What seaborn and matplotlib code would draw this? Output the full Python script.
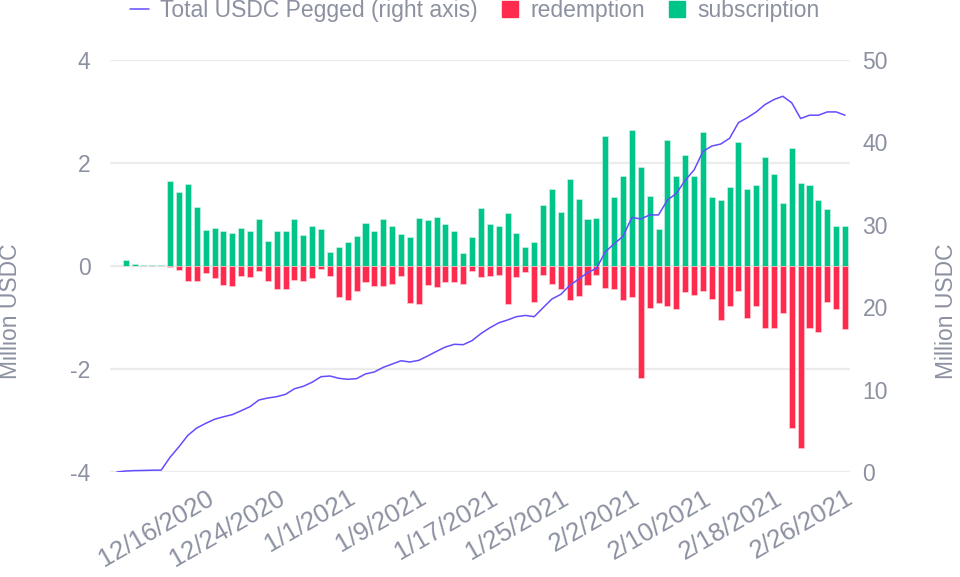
import numpy as np
import pandas as pd
import matplotlib
matplotlib.use("Agg")
import matplotlib.pyplot as plt
import matplotlib.transforms as mtransforms
from matplotlib.lines import Line2D
import seaborn as sns

# ── data (one value per day, 12/6/2020 → 2/26/2021) ─────────────────────────
start_date = "2020-12-06"

subscription = [
    0.00, 0.12, 0.045, 0.025, 0.025, 0.01, 1.66, 1.43, 1.59, 1.15,
    0.69, 0.74, 0.67, 0.65, 0.74, 0.68, 0.91, 0.49, 0.68, 0.68,
    0.91, 0.60, 0.77, 0.72, 0.28, 0.37,
    0.47, 0.58, 0.84, 0.67, 0.91, 0.78, 0.63, 0.56, 0.94, 0.90,
    0.96, 0.81, 0.67, 0.25, 0.56, 1.13, 0.81, 0.78, 1.02, 0.65,
    0.37, 0.46, 1.18, 1.50, 1.04, 1.68, 1.31, 0.91, 0.94, 2.52, 1.34,
    1.75, 2.65, 1.92, 1.36, 0.72, 2.45, 1.75, 2.15, 1.75, 2.61,
    1.34, 1.28, 1.53, 2.40, 1.50, 1.57, 2.12, 1.78, 1.22, 2.30,
    1.62, 1.57, 1.28, 1.11, 0.78, 0.78,
]

redemption = [
    0.00, 0.00, 0.00, 0.00, 0.00, 0.00, -0.02, -0.08, -0.29, -0.29,
    -0.14, -0.24, -0.36, -0.38, -0.19, -0.22, -0.10, -0.29, -0.45, -0.45,
    -0.27, -0.29, -0.23, -0.06, -0.20, -0.61,
    -0.66, -0.49, -0.31, -0.38, -0.38, -0.35, -0.19, -0.72, -0.74, -0.36,
    -0.40, -0.31, -0.32, -0.34, -0.10, -0.22, -0.19, -0.17, -0.74, -0.21,
    -0.12, -0.70, -0.17, -0.34, -0.45, -0.66, -0.59, -0.36, -0.17, -0.42, -0.45,
    -0.66, -0.60, -2.17, -0.82, -0.71, -0.77, -0.84, -0.50, -0.56, -0.48,
    -0.64, -1.05, -0.78, -0.48, -1.00, -0.77, -1.20, -1.20, -0.91, -3.15,
    -3.54, -1.21, -1.28, -0.69, -0.84, -1.23,
]

total_pegged = [
    0.00, 0.12, 0.17, 0.19, 0.22, 0.23, 1.80, 3.07, 4.45, 5.34,
    5.90, 6.40, 6.70, 6.96, 7.44, 7.93, 8.74, 8.98, 9.14, 9.43,
    10.10, 10.40, 10.90, 11.57, 11.65, 11.37,
    11.25, 11.33, 11.90, 12.14, 12.70, 13.10, 13.50, 13.35, 13.55, 14.08,
    14.64, 15.17, 15.50, 15.45, 15.94, 16.80, 17.50, 18.10, 18.45, 18.85,
    19.00, 18.85, 19.94, 21.00, 21.56, 22.65, 23.40, 24.20, 24.70, 26.70, 27.70,
    28.60, 30.90, 30.70, 31.20, 31.20, 33.00, 33.80, 35.40, 36.65, 38.90,
    39.56, 39.80, 40.50, 42.40, 43.00, 43.70, 44.60, 45.20, 45.60, 44.80,
    42.90, 43.30, 43.30, 43.70, 43.70, 43.30,
]

tick_labels = ["12/16/2020", "12/24/2020", "1/1/2021", "1/9/2021", "1/17/2021",
               "1/25/2021", "2/2/2021", "2/10/2021", "2/18/2021", "2/26/2021"]

GREEN  = "#00C58A"
RED    = "#FF2B4F"
PURPLE = "#634DFF"
TEXT   = "#8C91A1"
GRID   = "#ECECEC"

dates = pd.date_range(start_date, periods=len(subscription), freq="D")
df = pd.DataFrame({
    "day": np.arange(len(dates)),
    "date": dates,
    "subscription": subscription,
    "redemption": redemption,
    "pegged": total_pegged,
})
tick_pos = [df.loc[df["date"] == pd.to_datetime(t, format="%m/%d/%Y"), "day"].iloc[0]
            for t in tick_labels]

sns.set_theme(style="white")
plt.rcParams["font.family"] = ["Liberation Sans", "DejaVu Sans"]

fig = plt.figure(figsize=(9.6, 5.77), dpi=100)
ax = fig.add_axes([110 / 960, 1 - 472 / 577, 740 / 960, 412 / 577])
ax2 = ax.twinx()

sns.barplot(data=df, x="day", y="subscription", native_scale=True, color=GREEN,
            saturation=1, width=0.68, errorbar=None, ax=ax, zorder=2,
            edgecolor="#d9f5ea", linewidth=0.4)
sns.barplot(data=df, x="day", y="redemption", native_scale=True, color=RED,
            saturation=1, width=0.68, errorbar=None, ax=ax, zorder=2,
            edgecolor="#ffd6dd", linewidth=0.4)
sns.lineplot(data=df, x="day", y="pegged", color=PURPLE, linewidth=1.1, ax=ax2)

ax.set_xlim(-0.77, 82.56)
ax.set_ylim(-4, 4)
ax.set_yticks([-4, -2, 0, 2, 4])
ax.set_yticklabels(["-4", "-2", "0", "2", "4"])
ax2.set_ylim(0, 50)
ax2.set_yticks([0, 10, 20, 30, 40, 50])

ax.set_axisbelow(True)
ax.grid(axis="y", color=GRID, linewidth=1.6)
ax.grid(axis="x", visible=False)
ax2.grid(False)

ax.set_xticks(tick_pos)
ax.set_xticklabels(tick_labels, rotation=30, ha="right", rotation_mode="anchor")
shift = mtransforms.ScaledTranslation(-6 / 100, 0, fig.dpi_scale_trans)
for lbl in ax.get_xticklabels():
    lbl.set_transform(lbl.get_transform() + shift)

for a in (ax, ax2):
    for s in a.spines.values():
        s.set_visible(False)
    a.tick_params(length=0, labelsize=16.5, labelcolor=TEXT)
ax.tick_params(axis="y", pad=14)
ax.tick_params(axis="x", pad=10, labelsize=18.5)
ax2.tick_params(axis="y", pad=9)

ax.set_xlabel("")
ax.set_ylabel("Million USDC", fontsize=16.5, color=TEXT, ha="center", va="center")
ax2.set_ylabel("Million USDC", fontsize=16.5, color=TEXT, ha="center", va="center")
ax.yaxis.set_label_coords(-0.134, 0.39)
ax2.yaxis.set_label_coords(1.130, 0.39)

handles = [
    Line2D([], [], color=PURPLE, linewidth=1.1),
    Line2D([], [], color=RED, marker="s", linestyle="", markersize=11),
    Line2D([], [], color=GREEN, marker="s", linestyle="", markersize=11),
]
fig.legend(handles, ["Total USDC Pegged (right axis)", "redemption", "subscription"],
           loc="center", bbox_to_anchor=(0.495, 1 - 11 / 577), ncol=3, frameon=False,
           fontsize=16.5, labelcolor=TEXT, handlelength=0.8, handletextpad=0.5,
           columnspacing=1.0, borderpad=0)

fig.savefig("out.png", dpi=100, facecolor="white")
